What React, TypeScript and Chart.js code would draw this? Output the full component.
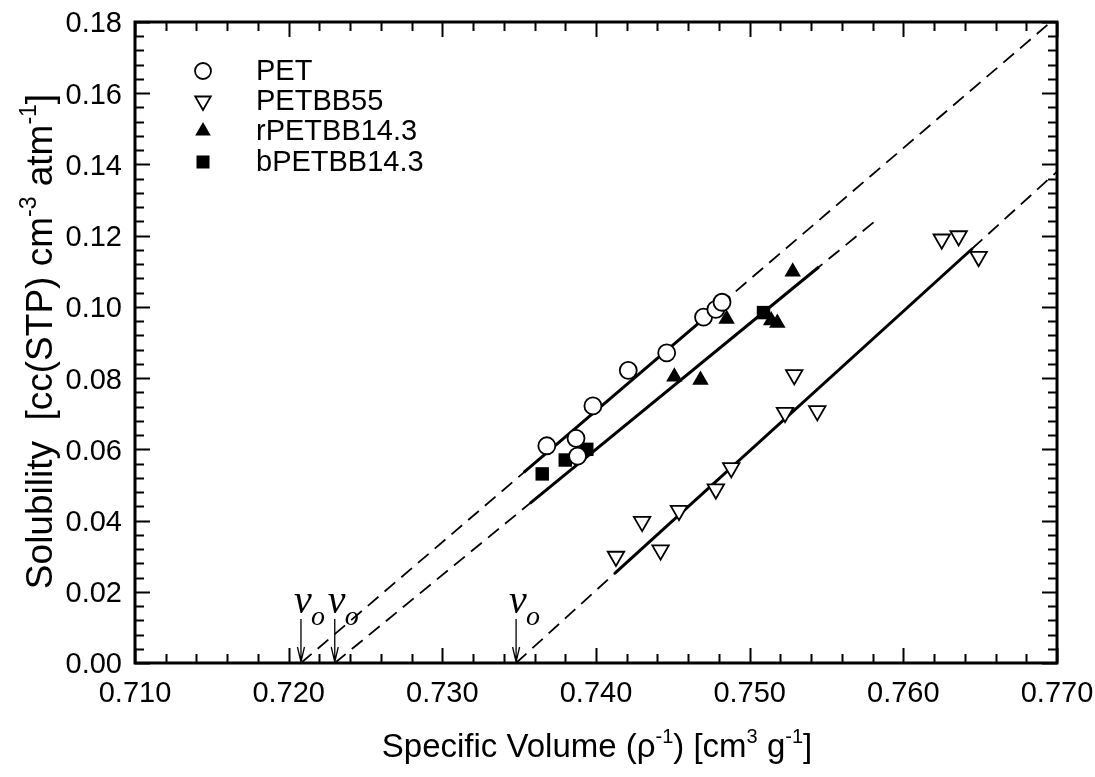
import React, { useEffect, useRef } from 'react';
import { Chart, registerables } from 'chart.js';

Chart.register(...registerables);

// ---------- axis ticks ----------
const xTickValues = [0.71, 0.72, 0.73, 0.74, 0.75, 0.76, 0.77];
const yTickValues = [0, 0.02, 0.04, 0.06, 0.08, 0.1, 0.12, 0.14, 0.16, 0.18];
const xTickLabels = ['0.710', '0.720', '0.730', '0.740', '0.750', '0.760', '0.770'];
const yTickLabels = ['0.00', '0.02', '0.04', '0.06', '0.08', '0.10', '0.12', '0.14', '0.16', '0.18'];
const xMinorStep = 0.002;
const yMinorStep = 0.004;

// ---------- series ----------
const seriesNames = ['PET', 'PETBB55', 'rPETBB14.3', 'bPETBB14.3'];

const petX = [0.7368, 0.7387, 0.7388, 0.7398, 0.7421, 0.7446, 0.747, 0.7478, 0.7482];
const petY = [0.061, 0.0631, 0.0581, 0.0722, 0.0822, 0.0871, 0.0971, 0.0993, 0.1013];

const petbb55X = [0.7413, 0.743, 0.7442, 0.7454, 0.7478, 0.7488, 0.7523, 0.7529, 0.7544, 0.7625, 0.7636, 0.7649];
const petbb55Y = [0.0299, 0.0397, 0.0317, 0.0428, 0.0488, 0.0548, 0.0703, 0.0809, 0.0708, 0.119, 0.1199, 0.1141];

const rPetbbX = [0.7451, 0.7468, 0.7485, 0.7514, 0.7518, 0.7528];
const rPetbbY = [0.0804, 0.0795, 0.0966, 0.0962, 0.0955, 0.1099];

const bPetbbX = [0.7365, 0.738, 0.7394, 0.7509];
const bPetbbY = [0.0531, 0.057, 0.06, 0.0984];

// ---------- fitted lines (endpoints) ----------
const petFitSolid = [[0.7353, 0.0535], [0.7487, 0.1029]];
const petFitDashed = [[0.7208, 0], [0.7696, 0.18]];
const pbbFitSolid = [[0.7357, 0.0448], [0.7545, 0.1112]];
const pbbFitDashed = [[0.723, 0], [0.7583, 0.1246]];
const p55FitSolid = [[0.7412, 0.0251], [0.7645, 0.1164]];
const p55FitDashed = [[0.7348, 0], [0.77, 0.138]];

// ---------- v_o intercept markers ----------
const voPositions = [0.7208, 0.723, 0.7348];

const toPts = (xs: number[], ys: number[]) => xs.map((x, i) => ({ x, y: ys[i] }));
const segPts = (seg: number[][]) => seg.map((p) => ({ x: p[0], y: p[1] }));

const SANS = '"Liberation Sans", Arial, Helvetica, sans-serif';
const SERIF = '"Liberation Serif", "Times New Roman", serif';

type Part = { t: string; sup?: boolean };

function drawRich(ctx: CanvasRenderingContext2D, parts: Part[], cx: number, baseY: number, size: number) {
  const supSize = Math.round(size * 0.62);
  const widths = parts.map((p) => {
    ctx.font = `${p.sup ? supSize : size}px ${SANS}`;
    return ctx.measureText(p.t).width;
  });
  const total = widths.reduce((a, b) => a + b, 0);
  let x = cx - total / 2;
  ctx.textAlign = 'left';
  ctx.textBaseline = 'alphabetic';
  parts.forEach((p, i) => {
    ctx.font = `${p.sup ? supSize : size}px ${SANS}`;
    ctx.fillText(p.t, x, p.sup ? baseY - size * 0.42 : baseY);
    x += widths[i];
  });
}

function drawMarker(ctx: CanvasRenderingContext2D, kind: string, x: number, y: number) {
  ctx.save();
  ctx.lineWidth = 1.8;
  ctx.strokeStyle = '#000';
  if (kind === 'circle') {
    ctx.fillStyle = '#fff';
    ctx.beginPath();
    ctx.arc(x, y, 8, 0, Math.PI * 2);
    ctx.fill();
    ctx.stroke();
  } else if (kind === 'down') {
    const r = 9;
    ctx.fillStyle = '#fff';
    ctx.beginPath();
    ctx.moveTo(x, y + r);
    ctx.lineTo(x - r * 0.866, y - r / 2);
    ctx.lineTo(x + r * 0.866, y - r / 2);
    ctx.closePath();
    ctx.fill();
    ctx.stroke();
  } else if (kind === 'up') {
    const r = 9;
    ctx.fillStyle = '#000';
    ctx.beginPath();
    ctx.moveTo(x, y - r);
    ctx.lineTo(x - r * 0.866, y + r / 2);
    ctx.lineTo(x + r * 0.866, y + r / 2);
    ctx.closePath();
    ctx.fill();
  } else {
    ctx.fillStyle = '#000';
    ctx.fillRect(x - 6.5, y - 6.5, 13, 13);
  }
  ctx.restore();
}

const TICK_FONT = 29;

const framePlugin = {
  id: 'framePlugin',
  afterDraw(chart: any) {
    const { ctx, chartArea: a, scales } = chart;
    const xs = scales.x;
    const ys = scales.y;
    ctx.save();
    ctx.strokeStyle = '#000';
    ctx.fillStyle = '#000';

    // inward ticks on all four sides
    ctx.lineWidth = 2;
    const xMin = xTickValues[0];
    const xMax = xTickValues[xTickValues.length - 1];
    const nx = Math.round((xMax - xMin) / xMinorStep);
    for (let i = 0; i <= nx; i++) {
      const px = Math.round(xs.getPixelForValue(xMin + i * xMinorStep)) + 0.5;
      const L = i % 5 === 0 ? 15 : 9;
      ctx.beginPath();
      ctx.moveTo(px, a.bottom);
      ctx.lineTo(px, a.bottom - L);
      ctx.moveTo(px, a.top);
      ctx.lineTo(px, a.top + L);
      ctx.stroke();
    }
    const yMin = yTickValues[0];
    const yMax = yTickValues[yTickValues.length - 1];
    const ny = Math.round((yMax - yMin) / yMinorStep);
    for (let i = 0; i <= ny; i++) {
      const py = Math.round(ys.getPixelForValue(yMin + i * yMinorStep)) + 0.5;
      const L = i % 5 === 0 ? 15 : 9;
      ctx.beginPath();
      ctx.moveTo(a.left, py);
      ctx.lineTo(a.left + L, py);
      ctx.moveTo(a.right, py);
      ctx.lineTo(a.right - L, py);
      ctx.stroke();
    }

    // frame
    ctx.lineWidth = 3;
    ctx.strokeRect(a.left, a.top, a.right - a.left, a.bottom - a.top);

    // tick labels
    ctx.fillStyle = '#000';
    ctx.font = `${TICK_FONT}px ${SANS}`;
    ctx.textBaseline = 'alphabetic';
    ctx.textAlign = 'center';
    xTickValues.forEach((v, i) => {
      ctx.fillText(xTickLabels[i], xs.getPixelForValue(v), a.bottom + 39);
    });
    ctx.textAlign = 'right';
    yTickValues.forEach((v, i) => {
      ctx.fillText(yTickLabels[i], a.left - 13, ys.getPixelForValue(v) + TICK_FONT * 0.36);
    });

    // legend
    const kinds = ['circle', 'down', 'up', 'square'];
    const rowY = [71, 101, 131, 162];
    seriesNames.forEach((name, i) => {
      drawMarker(ctx, kinds[i], a.left + 68, rowY[i]);
      ctx.fillStyle = '#000';
      ctx.font = `29px ${SANS}`;
      ctx.textAlign = 'left';
      ctx.textBaseline = 'middle';
      ctx.fillText(name, a.left + 121, rowY[i] + 1);
    });

    // v_o markers with arrows
    voPositions.forEach((v) => {
      const px = xs.getPixelForValue(v);
      ctx.lineWidth = 1.3;
      ctx.beginPath();
      ctx.moveTo(px, a.bottom - 44);
      ctx.lineTo(px, a.bottom - 1);
      ctx.moveTo(px - 3.5, a.bottom - 16);
      ctx.lineTo(px, a.bottom - 1);
      ctx.lineTo(px + 3.5, a.bottom - 16);
      ctx.stroke();
      ctx.textAlign = 'left';
      ctx.textBaseline = 'alphabetic';
      ctx.font = `italic 40px ${SERIF}`;
      ctx.fillText('\u03BD', px - 7, a.bottom - 50);
      ctx.font = `italic 28px ${SERIF}`;
      ctx.fillText('o', px + 10, a.bottom - 38);
    });

    // axis titles
    ctx.fillStyle = '#000';
    drawRich(
      ctx,
      [
        { t: 'Specific Volume (\u03C1' },
        { t: '-1', sup: true },
        { t: ') [cm' },
        { t: '3', sup: true },
        { t: ' g' },
        { t: '-1', sup: true },
        { t: ']' },
      ],
      (a.left + a.right) / 2 + 1,
      757,
      33
    );
    ctx.save();
    ctx.translate(52, (a.top + a.bottom) / 2 - 1);
    ctx.rotate(-Math.PI / 2);
    drawRich(
      ctx,
      [
        { t: 'Solubility  [cc(STP) cm' },
        { t: '-3', sup: true },
        { t: ' atm' },
        { t: '-1', sup: true },
        { t: ']' },
      ],
      0,
      0,
      37
    );
    ctx.restore();

    ctx.restore();
  },
};

export default function App() {
  const ref = useRef<HTMLCanvasElement>(null);

  useEffect(() => {
    document.body.style.margin = '0';
    const canvas = ref.current;
    if (!canvas) return;

    const lineDs = (data: any[], width: number, dash: number[]) => ({
      type: 'line' as const,
      data,
      showLine: true,
      borderColor: '#000',
      borderWidth: width,
      borderDash: dash,
      pointRadius: 0,
      fill: false,
      tension: 0,
    });

    const chart = new Chart(canvas, {
      type: 'scatter',
      data: {
        datasets: [
          {
            label: seriesNames[0],
            data: toPts(petX, petY),
            pointStyle: 'circle',
            pointRadius: 8.5,
            borderWidth: 1.8,
            borderColor: '#000',
            backgroundColor: '#fff',
          },
          {
            label: seriesNames[3],
            data: toPts(bPetbbX, bPetbbY),
            pointStyle: 'rect',
            pointRadius: 9.5,
            borderWidth: 0,
            borderColor: '#000',
            backgroundColor: '#000',
          },
          {
            label: seriesNames[2],
            data: toPts(rPetbbX, rPetbbY),
            pointStyle: 'triangle',
            pointRadius: 9.5,
            borderWidth: 0,
            borderColor: '#000',
            backgroundColor: '#000',
          },
          {
            label: seriesNames[1],
            data: toPts(petbb55X, petbb55Y),
            pointStyle: 'triangle',
            rotation: 180,
            pointRadius: 9.5,
            borderWidth: 1.8,
            borderColor: '#000',
            backgroundColor: '#fff',
          },
          lineDs(segPts(petFitSolid), 3, []),
          lineDs(segPts(pbbFitSolid), 3, []),
          lineDs(segPts(p55FitSolid), 3, []),
          lineDs(segPts(petFitDashed), 1.8, [14, 8]),
          lineDs(segPts(pbbFitDashed), 1.8, [14, 8]),
          lineDs(segPts(p55FitDashed), 1.8, [14, 8]),
        ] as any,
      },
      options: {
        responsive: false,
        devicePixelRatio: 1,
        animation: false,
        layout: { padding: { top: 22, right: 38, left: 0, bottom: 0 } },
        plugins: { legend: { display: false }, tooltip: { enabled: false } },
        scales: {
          x: {
            type: 'linear',
            min: 0.71,
            max: 0.77,
            afterFit: (s: any) => {
              s.height = 114;
            },
            grid: { display: false, drawTicks: false },
            border: { display: false },
            ticks: { display: false },
          },
          y: {
            type: 'linear',
            min: 0,
            max: 0.18,
            afterFit: (s: any) => {
              s.width = 135;
            },
            grid: { display: false, drawTicks: false },
            border: { display: false },
            ticks: { display: false },
          },
        },
      },
      plugins: [framePlugin],
    });

    return () => chart.destroy();
  }, []);

  return <canvas ref={ref} width={1095} height={777} style={{ display: 'block' }} />;
}
